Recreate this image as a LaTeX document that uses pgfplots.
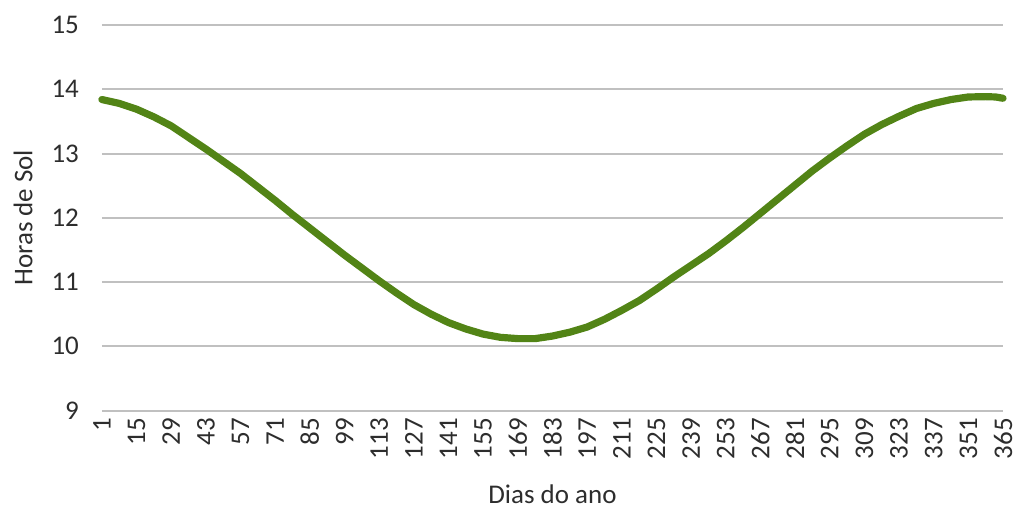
\documentclass[border=0pt]{standalone}
\usepackage{pgfplots}
\pgfplotsset{compat=1.18}
\usepackage{fontspec}
\setmainfont{Carlito}

\definecolor{linegreen}{RGB}{82,132,22}
\definecolor{gridgray}{RGB}{192,192,192}
\definecolor{textgray}{RGB}{45,45,45}

\begin{document}
\begin{tikzpicture}
\begin{axis}[
  at={(0,0)}, anchor=south west,
  scale only axis,
  width=451pt, height=193pt,
  xmin=1, xmax=365,
  ymin=9, ymax=15,
  xtick={1,15,...,365},
  ytick={9,10,...,15},
  axis line style={draw=none},
  major tick length=0pt,
  ymajorgrids,
  grid style={gridgray, line width=1pt},
  font=\fontsize{13.5}{16}\selectfont,
  tick label style={text=textgray, font=\fontsize{13.5}{16}\selectfont},
  /pgf/number format/assume math mode=true,
  xticklabel style={anchor=east, rotate=90, inner sep=1pt},
  xticklabel shift=2.6pt,
  yticklabel style={anchor=east, xshift=-8pt},
  every axis x label/.style={at={(axis description cs:0.5,-0.2176)}, anchor=center},
  every axis y label/.style={at={(axis description cs:-0.0875,0.5)}, rotate=90, anchor=center},
  xlabel={\color{textgray}Dias do ano},
  ylabel={\color{textgray}Horas de Sol},
  clip=false,
]
\addplot[linegreen, line width=3.6pt, line join=round, line cap=round] coordinates {
  (1,13.84) (8,13.78) (15,13.69) (22,13.57) (29,13.43) (36,13.25) (43,13.07)
  (50,12.88) (57,12.69) (64,12.48) (71,12.27) (78,12.05) (85,11.84) (92,11.63)
  (99,11.42) (106,11.22) (113,11.02) (120,10.83) (127,10.65) (134,10.50)
  (141,10.37) (148,10.27) (155,10.19) (162,10.14) (169,10.12) (176,10.12)
  (183,10.16) (190,10.22) (197,10.30) (204,10.42) (211,10.56) (218,10.71)
  (225,10.89) (232,11.08) (239,11.26) (246,11.44) (253,11.64) (260,11.85)
  (267,12.07) (274,12.29) (281,12.51) (288,12.73) (295,12.93) (302,13.12)
  (309,13.30) (316,13.45) (323,13.58) (330,13.70) (337,13.78) (344,13.84)
  (351,13.88) (358,13.885) (362,13.88) (365,13.86)
};
\end{axis}
\pgfresetboundingbox
\path[use as bounding box] (-51pt,-49pt) rectangle (458.5pt,205.5pt);
\end{tikzpicture}
\end{document}
